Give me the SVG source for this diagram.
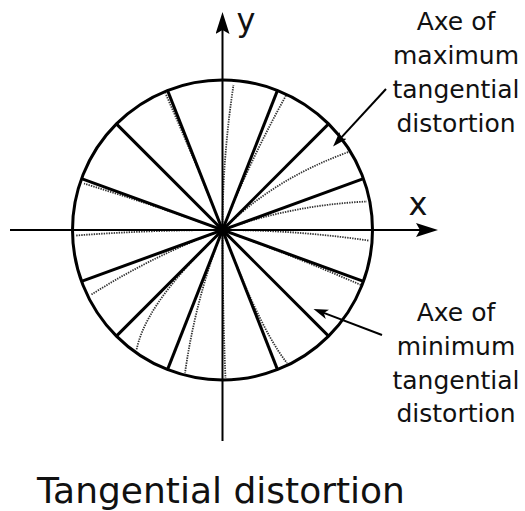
<svg xmlns="http://www.w3.org/2000/svg" width="525" height="511" viewBox="0 0 525 511">
<style>
.axis{stroke:#000;stroke-width:2;fill:none}
.spoke{stroke:#000;stroke-width:3;fill:none}
.rim{stroke:#000;stroke-width:3;fill:none}
.dist{stroke:#333;stroke-width:1.8;stroke-dasharray:1.4 1.1;fill:none}
.lead{stroke:#000;stroke-width:2;fill:none}
text{font-family:"DejaVu Sans","Liberation Sans",sans-serif;fill:#111}
.lbl{font-size:25px;text-anchor:middle}
.ax{font-size:32px;text-anchor:middle}
.title{font-size:36px;text-anchor:middle}
</style>
<defs>
<marker id="axArrow" markerUnits="userSpaceOnUse" markerWidth="22" markerHeight="14" refX="4" refY="7" orient="auto" viewBox="0 0 22 14">
<path d="M0,0 L22,7 L0,14 L4,7 Z" fill="#000"/>
</marker>
<marker id="leadArrow" markerUnits="userSpaceOnUse" markerWidth="15" markerHeight="10" refX="4" refY="5" orient="auto" viewBox="0 0 15 10">
<path d="M0,0 L15,5 L0,10 L4,5 Z" fill="#000"/>
</marker>
<clipPath id="disk"><circle cx="222.5" cy="230" r="150"/></clipPath>
</defs>
<g id="distorted" clip-path="url(#disk)">
<path class="dist" d="M222.5,230 Q222.5,157.5 233.5,85"/>
<path class="dist" d="M222.5,230 Q249.7,161 286,95.5"/>
<path class="dist" d="M222.5,230 Q273.5,179 348.5,152"/>
<path class="dist" d="M222.5,230 Q290.9,205.1 367,201.5"/>
<path class="dist" d="M222.5,230 Q295.5,230 368.5,240.5"/>
<path class="dist" d="M222.5,230 Q292.5,255.5 361,285"/>
<path class="dist" d="M222.5,230 C240.5,275.7 263,332.8 287,363"/>
<path class="dist" d="M222.5,230 Q222.5,304 225.5,378"/>
<path class="dist" d="M222.5,230 Q195.6,298.3 185,373"/>
<path class="dist" d="M222.5,230 C188.1,264.4 145.2,307.3 136.5,350"/>
<path class="dist" d="M222.5,230 Q154.3,254.8 91.5,294.5"/>
<path class="dist" d="M222.5,230 Q149.3,230 76,235.5"/>
<path class="dist" d="M222.5,230 Q153.9,205 84,183.5"/>
<path class="dist" d="M222.5,230 Q195.4,161.2 165.5,93.5"/>
</g>
<g id="spokes">
<path class="spoke" d="M81.5,281.3 L363.5,178.7"/>
<path class="spoke" d="M167.5,369.6 L277.5,90.4"/>
<path class="spoke" d="M116.4,336.1 L328.6,123.9"/>
<path class="spoke" d="M167.5,90.4 L277.5,369.6"/>
<path class="spoke" d="M116.4,123.9 L328.6,336.1"/>
<path class="spoke" d="M81.5,178.7 L363.5,281.3"/>
</g>
<g id="circle">
<circle class="rim" cx="222.5" cy="230" r="150"/>
</g>
<g id="axes">
<path class="axis" d="M10,230 L420,230" marker-end="url(#axArrow)"/>
<path class="axis" d="M222.5,441 L222.5,30" marker-end="url(#axArrow)"/>
<text class="ax" x="418" y="215">x</text>
<text class="ax" x="246" y="31">y</text>
</g>
<g id="connectors">
<path class="lead" d="M386,89 L340.5,138.4" marker-end="url(#leadArrow)"/>
<path class="lead" d="M382,335 L323.8,312.9" marker-end="url(#leadArrow)"/>
</g>
<g id="label-max">
<text class="lbl" x="456" y="30">Axe of</text>
<text class="lbl" x="456" y="64">maximum</text>
<text class="lbl" x="456" y="98">tangential</text>
<text class="lbl" x="456" y="132">distortion</text>
</g>
<g id="label-min">
<text class="lbl" x="456" y="321">Axe of</text>
<text class="lbl" x="456" y="355">minimum</text>
<text class="lbl" x="456" y="389">tangential</text>
<text class="lbl" x="456" y="422">distortion</text>
</g>
<g id="title">
<text class="title" x="221" y="503">Tangential distortion</text>
</g>
</svg>
